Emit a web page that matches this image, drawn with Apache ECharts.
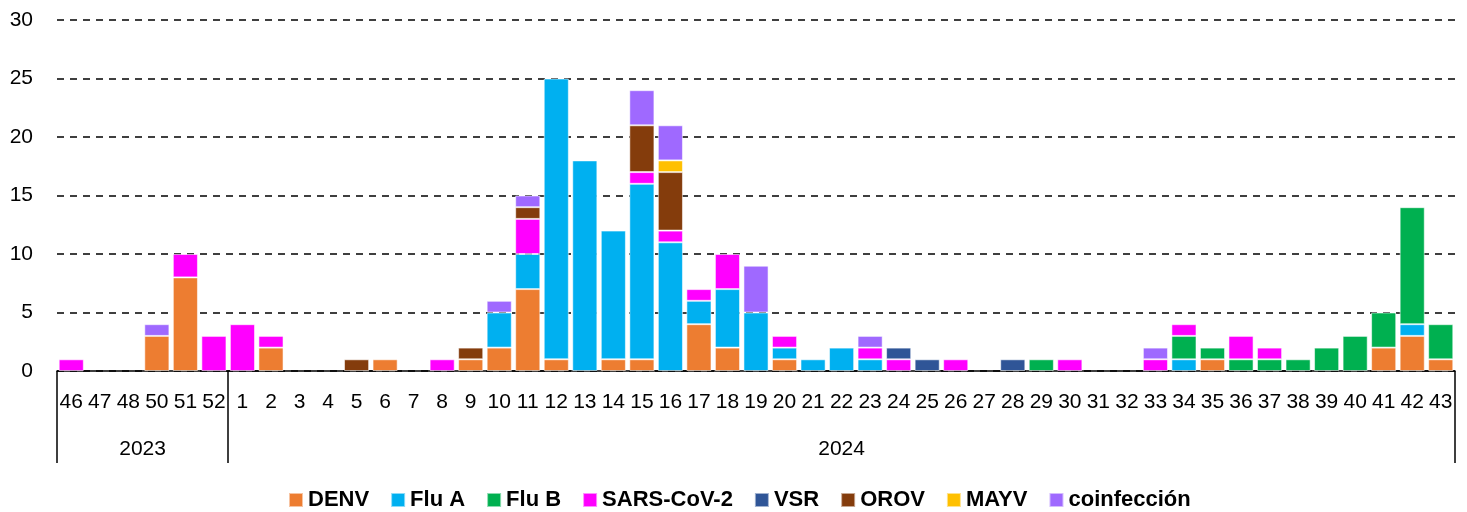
<!DOCTYPE html>
<html>
<head>
<meta charset="utf-8">
<title>Casos por semana</title>
<script src="https://cdn.jsdelivr.net/npm/echarts@6/dist/echarts.min.js"></script>
<style>
  html, body { margin: 0; height: 100%; background: #fff; }
  #chart { width: 1467px; height: 512px; }
</style>
</head>
<body>
<div id="chart"></div>
<script>
// semanas epidemiologicas
var weeks = ['46','47','48','50','51','52',
  '1','2','3','4','5','6','7','8','9','10',
  '11','12','13','14','15','16','17','18','19','20',
  '21','22','23','24','25','26','27','28','29','30',
  '31','32','33','34','35','36','37','38','39','40',
  '41','42','43'];
var years = ['2023', '2024'];
var yearStarts = [0, 6, 49]; // index where each year begins / ends

// valores (2023: 6 semanas, 2024: semanas 1-43)
var denv = [0,0,0,3,8,0,
  0,2,0,0,0,1,0,0,1,2,  7,1,0,1,1,0,4,2,0,1,  0,0,0,0,0,0,0,0,0,0,  0,0,0,0,1,0,0,0,0,0,  2,3,1];
var fluA = [0,0,0,0,0,0,
  0,0,0,0,0,0,0,0,0,3,  3,24,18,11,15,11,2,5,5,1,  1,2,1,0,0,0,0,0,0,0,  0,0,0,1,0,0,0,0,0,0,  0,1,0];
var fluB = [0,0,0,0,0,0,
  0,0,0,0,0,0,0,0,0,0,  0,0,0,0,0,0,0,0,0,0,  0,0,0,0,0,0,0,0,1,0,  0,0,0,2,1,1,1,1,2,3,  3,10,3];
var sars = [1,0,0,0,2,3,
  4,1,0,0,0,0,0,1,0,0,  3,0,0,0,1,1,1,3,0,1,  0,0,1,1,0,1,0,0,0,1,  0,0,1,1,0,2,1,0,0,0,  0,0,0];
var vsr = [0,0,0,0,0,0,
  0,0,0,0,0,0,0,0,0,0,  0,0,0,0,0,0,0,0,0,0,  0,0,0,1,1,0,0,1,0,0,  0,0,0,0,0,0,0,0,0,0,  0,0,0];
var orov = [0,0,0,0,0,0,
  0,0,0,0,1,0,0,0,1,0,  1,0,0,0,4,5,0,0,0,0,  0,0,0,0,0,0,0,0,0,0,  0,0,0,0,0,0,0,0,0,0,  0,0,0];
var mayv = [0,0,0,0,0,0,
  0,0,0,0,0,0,0,0,0,0,  0,0,0,0,0,1,0,0,0,0,  0,0,0,0,0,0,0,0,0,0,  0,0,0,0,0,0,0,0,0,0,  0,0,0];
var coinf = [0,0,0,1,0,0,
  0,0,0,0,0,0,0,0,0,1,  1,0,0,0,3,3,0,0,4,0,  0,0,1,0,0,0,0,0,0,0,  0,0,1,0,0,0,0,0,0,0,  0,0,0];

var seriesDefs = [
  ['DENV', denv, '#ED7D31'],
  ['Flu A', fluA, '#00B0F0'],
  ['Flu B', fluB, '#00B050'],
  ['SARS-CoV-2', sars, '#FF00FF'],
  ['VSR', vsr, '#2F5597'],
  ['OROV', orov, '#843C0C'],
  ['MAYV', mayv, '#FFC000'],
  ['coinfección', coinf, '#9F69FF']
];

var series = seriesDefs.map(function (d) {
  return {
    name: d[0],
    type: 'bar',
    stack: 'total',
    barCategoryGap: '12%',
    xAxisIndex: 0,
    itemStyle: { color: d[2], borderColor: 'rgba(255,255,255,0.55)', borderWidth: 1 },
    data: d[1].map(function (v) { return v === 0 ? '-' : v; })
  };
});

var chart = echarts.init(document.getElementById('chart'));
var option = {
  animation: false,
  textStyle: { fontFamily: 'Liberation Sans, Arial, sans-serif', color: '#000' },
  grid: { left: 57, right: 12, top: 20, bottom: 141 },
  legend: {
    top: 484,
    left: 283,
    itemWidth: 14,
    itemHeight: 14,
    itemGap: 21,
    icon: 'rect',
    textStyle: { fontSize: 22, fontWeight: 'bold', color: '#000' },
    data: seriesDefs.map(function (d) { return d[0]; })
  },
  xAxis: [
    {
      type: 'category',
      data: weeks,
      axisLine: { lineStyle: { color: '#000', width: 1.5 } },
      axisTick: { show: false },
      axisLabel: { color: '#000', fontSize: 21, margin: 21, interval: 0 }
    },
    {
      type: 'value',
      min: 0,
      max: 49,
      position: 'bottom',
      axisLine: { show: false },
      splitLine: { show: false },
      axisTick: {
        show: true, length: 92, customValues: yearStarts,
        lineStyle: { color: '#000', width: 1.5 }
      },
      axisLabel: {
        color: '#000', fontSize: 21, margin: 68,
        customValues: [(yearStarts[0] + yearStarts[1]) / 2, (yearStarts[1] + yearStarts[2]) / 2],
        formatter: function (v) { return v < yearStarts[1] ? years[0] : years[1]; }
      }
    }
  ],
  yAxis: {
    type: 'value',
    min: 0,
    max: 30,
    interval: 5,
    axisLine: { show: false },
    axisTick: { show: false },
    axisLabel: { color: '#000', fontSize: 21, margin: 24 },
    splitLine: { lineStyle: { color: '#000', type: [7, 6], width: 1.5 } }
  },
  series: series
};
chart.setOption(option);
</script>
</body>
</html>
